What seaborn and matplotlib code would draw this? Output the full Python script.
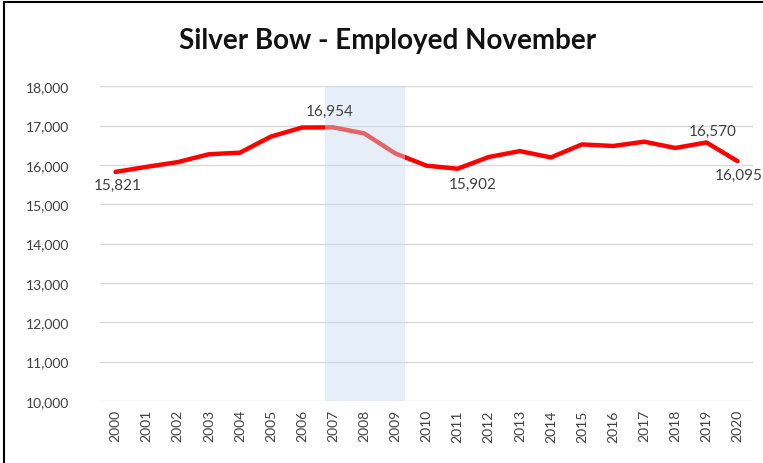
import matplotlib
matplotlib.use("Agg")
import matplotlib.pyplot as plt
import pandas as pd
import seaborn as sns
from matplotlib.lines import Line2D

# data
years = [str(y) for y in range(2000, 2021)]
employed = [15821, 15950, 16070, 16270, 16310, 16720, 16950, 16954, 16800, 16290,
            15980, 15902, 16200, 16350, 16190, 16520, 16480, 16590, 16430, 16570, 16095]
# labelled points: (year, dx px, dy px)
labels = [("2000", 2, -13), ("2007", -3, 16), ("2011", 15, -15), ("2019", 6, 12), ("2020", 1, -14)]

sns.set_theme(style="white")
plt.rcParams["font.family"] = ["Lato", "DejaVu Sans"]

df = pd.DataFrame({"year": years, "employed": employed})

fig, ax = plt.subplots(figsize=(7.63, 4.64), dpi=100)
fig.subplots_adjust(left=0.131, right=0.987, top=0.812, bottom=0.134)

sns.lineplot(data=df, x="year", y="employed", color="#ff0000", lw=3.2, ax=ax, zorder=3)

# recession shading, drawn on top of the line like the original
ax.axvspan(6.72, 9.3, color="#c9dcef", alpha=0.45, lw=0, zorder=4)

ax.set_ylim(10000, 18000)
ax.set_xlim(-0.5, 20.5)
ax.set_yticks(range(10000, 18001, 1000))
ax.set_yticklabels([f"{v:,}" for v in range(10000, 18001, 1000)])
ax.yaxis.grid(True, color="#d9d9d9", lw=1)
ax.set_axisbelow(True)
for s in ax.spines.values():
    s.set_visible(False)
ax.tick_params(axis="x", labelrotation=90, labelsize=10, colors="#404040", length=0, pad=6)
ax.tick_params(axis="y", labelsize=10, colors="#404040", length=0, pad=22)
ax.set_xlabel("")
ax.set_ylabel("")

for yr, dx, dy in labels:
    i = years.index(yr)
    ax.annotate(f"{employed[i]:,}", (i, employed[i]), xytext=(dx * 0.72, dy * 0.72),
                textcoords="offset points", ha="center", va="center",
                fontsize=11, color="#404040", zorder=6, annotation_clip=False)

fig.suptitle("Silver Bow - Employed November", x=0.508, y=0.94, fontsize=20,
             fontweight="bold", color="#111111")

# chart frame (left and top edges visible in the crop)
fig.add_artist(Line2D([0.005, 0.005], [0, 0.994], color="black", lw=1.5, transform=fig.transFigure))
fig.add_artist(Line2D([0.005, 1.0], [0.994, 0.994], color="black", lw=1.5, transform=fig.transFigure))

fig.savefig("out.png", dpi=100)
